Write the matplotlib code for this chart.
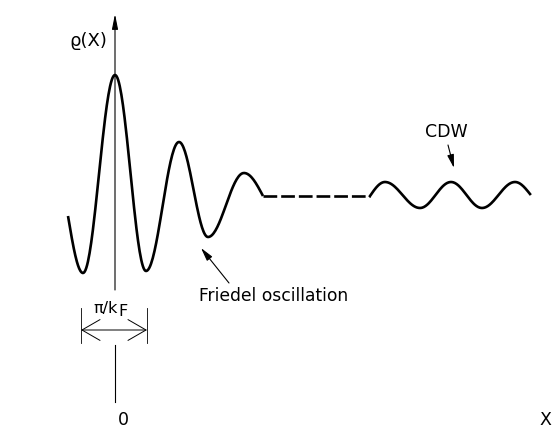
import numpy as np
import matplotlib.pyplot as plt

# extrema of the curve (pixel coords, y downwards)
friedel_x = [68, 83, 115, 146, 179, 208, 244, 263]
friedel_y = [216, 273, 75, 271, 142, 237, 173, 196]
flat_x = [263, 370]
flat_y = [196, 196]
cdw_x = [370, 385, 420, 451, 482, 515, 530]
cdw_y = [196, 182, 208, 182, 208, 182, 194]


def smooth(xs, ys, open_start, open_end):
    # join neighbouring extrema with half-wave (cosine) arcs
    px, py = [], []
    n = len(xs) - 1
    for i in range(n):
        t = np.linspace(0, 1, 40)
        if i == 0 and open_start:
            s = np.sin(t * np.pi / 2)
        elif i == n - 1 and open_end:
            s = 1 - np.cos(t * np.pi / 2)
        else:
            s = (1 - np.cos(np.pi * t)) / 2
        px.extend(xs[i] + (xs[i + 1] - xs[i]) * t)
        py.extend(ys[i] + (ys[i + 1] - ys[i]) * s)
    return px, py


fig = plt.figure(figsize=(5.52, 4.30), dpi=100)
ax = fig.add_axes([0, 0, 1, 1])
ax.set_xlim(0, 552)
ax.set_ylim(430, 0)
ax.axis('off')

lw = 1.9
fx, fy = smooth(friedel_x, friedel_y, True, True)
ax.plot(fx, fy, color='black', lw=lw, solid_capstyle='butt')
ax.plot(flat_x, flat_y, color='black', lw=lw, ls=(0, (5.2, 1.5)))
cx, cy = smooth(cdw_x, cdw_y, True, True)
ax.plot(cx, cy, color='black', lw=lw)

# axes
ax.plot([115, 115], [345, 402], color='black', lw=0.8)
ax.annotate('', xy=(115, 14), xytext=(115, 290),
            arrowprops=dict(arrowstyle='-|>,head_length=0.9,head_width=0.18',
                            color='black', lw=0.8, shrinkA=0, shrinkB=0))
ax.annotate('', xy=(553, 401), xytext=(10, 402),
            arrowprops=dict(arrowstyle='-|>,head_length=0.9,head_width=0.18',
                            color='black', lw=0.8, shrinkA=0, shrinkB=0))

txt = dict(color='black', family='DejaVu Sans')
ax.text(88, 41, 'ϱ(X)', fontsize=13, ha='center', va='center', **txt)
ax.text(123, 420, '0', fontsize=12.5, ha='center', va='center', **txt)
ax.text(545, 420, 'X', fontsize=12.5, ha='center', va='center', **txt)

# pi/kF width marker
ax.plot([81, 81], [308, 343], color='black', lw=0.6)
ax.plot([147, 147], [308, 343], color='black', lw=0.6)
ax.annotate('', xy=(81, 330), xytext=(147, 330),
            arrowprops=dict(arrowstyle='<->,head_length=1.3,head_width=0.75',
                            color='black', lw=0.7, shrinkA=0, shrinkB=0,
                            mutation_scale=10))
ax.text(118, 308, 'π/k', fontsize=11.5, ha='right', va='center', **txt)
ax.text(118, 312, 'F', fontsize=11.5, ha='left', va='center', **txt)

# labels with arrows
ax.annotate('', xy=(201, 248), xytext=(229, 283),
            arrowprops=dict(arrowstyle='-|>,head_length=0.8,head_width=0.2',
                            color='black', lw=0.8, shrinkA=0, shrinkB=0,
                            mutation_scale=10))
ax.text(199, 296, 'Friedel oscillation', fontsize=12.3, ha='left',
        va='center', **txt)
ax.annotate('', xy=(454, 168), xytext=(448, 145),
            arrowprops=dict(arrowstyle='-|>,head_length=0.8,head_width=0.2',
                            color='black', lw=0.8, shrinkA=0, shrinkB=0,
                            mutation_scale=10))
ax.text(446, 132, 'CDW', fontsize=12.5, ha='center', va='center', **txt)

fig.savefig('out.png', dpi=100)
